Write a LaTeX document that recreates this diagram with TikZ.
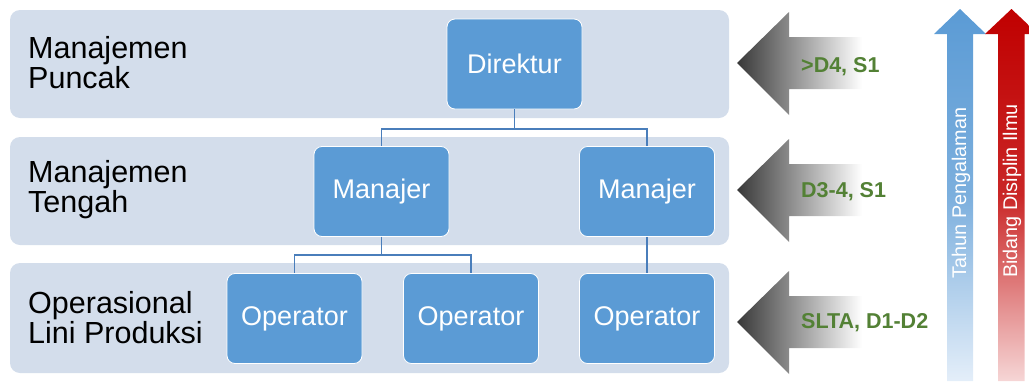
\documentclass[tikz,border=0pt]{standalone}
\usepackage{fontspec}
\setmainfont{Liberation Sans}
\usetikzlibrary{calc}
\definecolor{bandfill}{HTML}{D3DDEB}
\definecolor{boxfill}{HTML}{5B9BD5}
\definecolor{linkcol}{HTML}{4A7EBB}
\definecolor{qualgreen}{HTML}{538135}
\definecolor{expblue}{HTML}{5B9BD5}
\definecolor{expbluelight}{HTML}{E4EEF9}
\definecolor{discred}{HTML}{C00000}
\definecolor{discredlight}{HTML}{F6D6D6}
\tikzset{
  band/.style={fill=bandfill, rounded corners=10pt},
  role/.style={draw=white, line width=0.8pt, fill=boxfill, rounded corners=8pt,
    minimum width=135pt, minimum height=90pt, inner sep=0pt, text=white,
    font=\fontsize{27}{30}\selectfont},
  level/.style={anchor=west, align=left, inner sep=0pt,
    font=\fontsize{30.5}{30}\selectfont},
  link/.style={draw=linkcol, line width=1.1pt},
  qual/.style={anchor=west, inner sep=0pt, text=qualgreen,
    font=\fontsize{21.5}{24}\selectfont\bfseries},
  axislabel/.style={rotate=90, text=white, inner sep=0pt,
    font=\fontsize{19.8}{22}\selectfont}
}
\begin{document}
\begin{tikzpicture}[x=1pt, y=-1pt]
  \useasboundingbox (0,0) rectangle (1029,381);

  % organisational levels
  \fill[band] (10,10) rectangle (729,118);
  \fill[band] (10,137) rectangle (729,245);
  \fill[band] (10,263) rectangle (729,373);

  \node[level] (lvltop) at (28,63) {Manajemen\\Puncak};
  \node[level] (lvlmid) at (28,190) {Manajemen\\Tengah};
  \node[level] (lvlops) at (28,318) {Operasional\\Lini Produksi};

  % roles
  \node[role] (dir) at (514.5,64) {Direktur};
  \node[role] (mgrA) at (381.5,191.5) {Manajer};
  \node[role] (mgrB) at (647,191.5) {Manajer};
  \node[role] (opA) at (294.5,318.5) {Operator};
  \node[role] (opB) at (471,318.5) {Operator};
  \node[role] (opC) at (647,318.5) {Operator};

  % reporting lines
  \draw[link] (dir.south) -- (dir.south |- 0,129) -| (mgrA.north);
  \draw[link] (dir.south) -- (dir.south |- 0,129) -| (mgrB.north);
  \draw[link] (mgrA.south) -- (mgrA.south |- 0,255) -| (opA.north);
  \draw[link] (mgrA.south) -- (mgrA.south |- 0,255) -| (opB.north);
  \draw[link] (mgrB.south) -- (opC.north);

  % education arrows
  \foreach \cy/\nm in {63/qa, 190/qb, 322/qc} {
    \shade[left color=black!78, right color=white]
      (737,\cy) -- (789,\cy-51) -- (789,\cy-26) -- (862,\cy-26)
      -- (862,\cy+26) -- (789,\cy+26) -- (789,\cy+52) -- cycle;
  }
  \node[qual] (qa) at (801,67) {>D4, S1};
  \node[qual] (qb) at (801,192) {D3-4, S1};
  \node[qual] (qc) at (801,323) {SLTA, D1-D2};

  % experience and discipline axes
  \begin{scope}
    \clip (0,0) rectangle (1029,381);
    \shade[top color=expblue, bottom color=expbluelight, middle color=expblue!80!white]
      (960,9) -- (986,34) -- (973,34) -- (973,381) -- (947,381) -- (947,34)
      -- (934,34) -- cycle;
    \shade[top color=discred, bottom color=discredlight, middle color=discred!85!white]
      (1011.5,9) -- (1038,34) -- (1024.5,34) -- (1024.5,381) -- (998,381)
      -- (998,34) -- (985,34) -- cycle;
  \end{scope}
  \node[axislabel] (tahun) at (961,193) {Tahun Pengalaman};
  \node[axislabel] (bidang) at (1012,191) {Bidang Disiplin Ilmu};
\end{tikzpicture}
\end{document}
